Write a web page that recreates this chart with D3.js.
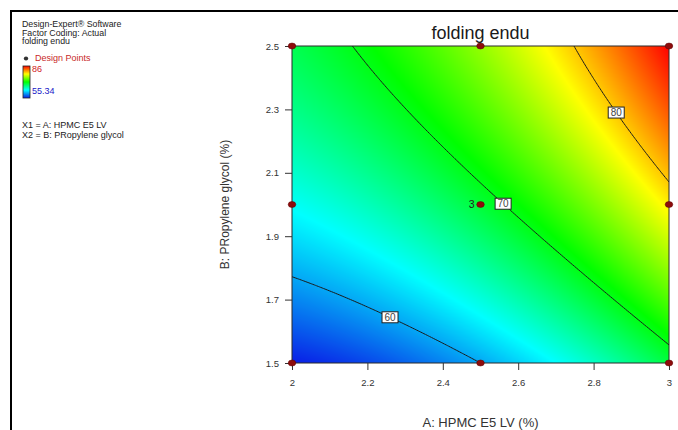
<!DOCTYPE html>
<html><head><meta charset="utf-8">
<script src="https://cdn.jsdelivr.net/npm/d3@7"></script>
<style>body{margin:0;background:#fff;overflow:hidden}svg{display:block}text{font-family:"Liberation Sans",Arial,sans-serif}</style>
</head><body><svg id="c" width="678" height="430"></svg>
<script>
const chartTitle = "folding endu";
const xLabel = "A: HPMC E5 LV (%)";
const yLabel = "B: PRopylene glycol (%)";
const xTicks = [2, 2.2, 2.4, 2.6, 2.8, 3];
const yTicks = [1.5, 1.7, 1.9, 2.1, 2.3, 2.5];
const designA = [2, 2.5, 3, 2, 2.5, 3, 2, 2.5, 3];
const designB = [1.5, 1.5, 1.5, 2, 2, 2, 2.5, 2.5, 2.5];
const designReps = [1, 1, 1, 1, 3, 1, 1, 1, 1];
// coded quadratic model terms: intercept, A, B, AB, A^2, B^2
const modelCoef = [69, 7.78, 7.55, 1.10, 2.02, -1.45];
const contourLevels = [60, 70, 80];
const labelA = [2.26, 2.56, 2.86];
const responseRange = [55.34, 86];
const colorStops = [0, 0.25, 0.5, 0.75, 1];
const colorValues = ["#0a1ee6", "#00ffff", "#00ff00", "#ffff00", "#ff0000"];
const legendLines = ["Design-Expert\u00ae Software", "Factor Coding: Actual", "folding endu"];
const factorLines = ["X1 = A: HPMC E5 LV", "X2 = B: PRopylene glycol"];

const svg = d3.select("#c");
const x = d3.scaleLinear().domain([2, 3]).range([292, 669]);
const y = d3.scaleLinear().domain([1.5, 2.5]).range([363, 46]);

function model(A, B) {
  const a = (A - 2.5) / 0.5, b = (B - 2) / 0.5;
  const c = modelCoef;
  return c[0] + c[1]*a + c[2]*b + c[3]*a*b + c[4]*a*a + c[5]*b*b;
}
const color = d3.scaleLinear()
  .domain(colorStops.map(s => responseRange[0] + s * (responseRange[1] - responseRange[0])))
  .range(colorValues).interpolate(d3.interpolateRgb).clamp(true);

// outer frame
svg.append("path").attr("d", "M11,430V11H678").attr("fill", "none").attr("stroke", "#000").attr("stroke-width", 2);

// surface image
const x0 = x(2), y0 = y(2.5);
const W = Math.round(x(3) - x0), H = Math.round(y(1.5) - y0);
const cv = document.createElement("canvas"); cv.width = W; cv.height = H;
const ctx = cv.getContext("2d");
const img = ctx.createImageData(W, H);
for (let j = 0; j < H; j++) {
  for (let i = 0; i < W; i++) {
    const A = x.invert(x0 + i + 0.5), B = y.invert(y0 + j + 0.5);
    const c = d3.rgb(color(model(A, B)));
    const k = (j * W + i) * 4;
    img.data[k] = c.r; img.data[k+1] = c.g; img.data[k+2] = c.b; img.data[k+3] = 255;
  }
}
ctx.putImageData(img, 0, 0);
svg.append("image").attr("href", cv.toDataURL()).attr("x", x0).attr("y", y0)
  .attr("width", W).attr("height", H).attr("preserveAspectRatio", "none");

// contours
svg.append("clipPath").attr("id", "clip").append("rect")
  .attr("x", x0).attr("y", y0).attr("width", W).attr("height", H);
const nx = 201, ny = 201;
const grid = new Array(nx * ny);
for (let j = 0; j < ny; j++) for (let i = 0; i < nx; i++) {
  grid[j * nx + i] = model(2 + i / (nx - 1), 2.5 - j / (ny - 1));
}
const contours = d3.contours().size([nx, ny]).thresholds(contourLevels)(grid);
const proj = d3.geoTransform({
  point(px, py) {
    this.stream.point(x(2 + (px - 0.5) / (nx - 1)), y(2.5 - (py - 0.5) / (ny - 1)));
  }
});
svg.append("g").attr("clip-path", "url(#clip)").selectAll("path").data(contours).join("path")
  .attr("d", d3.geoPath(proj)).attr("fill", "none").attr("stroke", "#1a1a1a").attr("stroke-width", 1);

// plot border
svg.append("rect").attr("x", x0).attr("y", y0).attr("width", W).attr("height", H)
  .attr("fill", "none").attr("stroke", "#2a2a2a").attr("stroke-width", 1);

// axes
const xAxis = svg.append("g").attr("transform", `translate(0,${y(1.5)})`)
  .call(d3.axisBottom(x).tickValues(xTicks).tickFormat(d3.format("")).tickSize(7).tickPadding(9));
const yAxis = svg.append("g").attr("transform", `translate(${x(2)},0)`)
  .call(d3.axisLeft(y).tickValues(yTicks).tickFormat(d3.format(".1f")).tickSize(7).tickPadding(6));
[xAxis, yAxis].forEach(g => {
  g.select(".domain").remove();
  g.selectAll("line").attr("stroke", "#333");
  g.selectAll("text").attr("fill", "#333").style("font-size", "9.5px").style("font-family", '"Liberation Sans",Arial,sans-serif');
});

// contour labels
contourLevels.forEach((lv, k) => {
  const A = labelA[k];
  let lo = 1.5, hi = 2.5;
  for (let it = 0; it < 50; it++) {
    const mid = (lo + hi) / 2;
    if (model(A, mid) < lv) lo = mid; else hi = mid;
  }
  const cx = x(A), cy = y((lo + hi) / 2);
  svg.append("rect").attr("x", cx - 8).attr("y", cy - 5.5).attr("width", 16).attr("height", 11)
    .attr("fill", "#fff").attr("stroke", "#222").attr("stroke-width", 1);
  svg.append("text").attr("x", cx).attr("y", cy + 3.5).attr("text-anchor", "middle")
    .attr("fill", "#444").style("font-size", "10px").text(lv);
});

// design points
designA.forEach((A, k) => {
  const px = x(A), py = y(designB[k]);
  svg.append("ellipse").attr("cx", px).attr("cy", py).attr("rx", 3.8).attr("ry", 3)
    .attr("fill", "#8e0c0c").attr("stroke", "#5a0505").attr("stroke-width", 0.5);
  if (designReps[k] > 1) {
    svg.append("text").attr("x", px - 6).attr("y", py + 3.5).attr("text-anchor", "end")
      .attr("fill", "#222").style("font-size", "10.5px").text(designReps[k]);
  }
});

// titles
svg.append("text").attr("x", (x(2) + x(3)) / 2).attr("y", 39).attr("text-anchor", "middle")
  .attr("fill", "#1a1a1a").style("font-size", "18px").text(chartTitle);
svg.append("text").attr("x", (x(2) + x(3)) / 2).attr("y", 427).attr("text-anchor", "middle")
  .attr("fill", "#333").style("font-size", "13px").text(xLabel);
svg.append("text").attr("transform", `translate(229,${(y(1.5) + y(2.5)) / 2}) rotate(-90)`)
  .attr("text-anchor", "middle").attr("fill", "#333").style("font-size", "12px").text(yLabel);

// legend
legendLines.forEach((t, k) => {
  svg.append("text").attr("x", 22).attr("y", 27 + k * 8.6).attr("fill", "#222").style("font-size", "8.8px").text(t);
});
svg.append("ellipse").attr("cx", 26).attr("cy", 58.5).attr("rx", 2.2).attr("ry", 2).attr("fill", "#333");
svg.append("text").attr("x", 35).attr("y", 61).attr("fill", "#c82828").style("font-size", "9px").text("Design Points");
const grad = svg.append("defs").append("linearGradient").attr("id", "lg")
  .attr("x1", 0).attr("y1", 1).attr("x2", 0).attr("y2", 0);
colorStops.forEach((s, k) => grad.append("stop").attr("offset", s).attr("stop-color", colorValues[k]));
svg.append("rect").attr("x", 23).attr("y", 66).attr("width", 7).attr("height", 32)
  .attr("fill", "url(#lg)").attr("stroke", "#222").attr("stroke-width", 0.8);
svg.append("text").attr("x", 32).attr("y", 72).attr("fill", "#d02020").style("font-size", "9px").text(responseRange[1]);
svg.append("text").attr("x", 32).attr("y", 94).attr("fill", "#2020c8").style("font-size", "9px").text(responseRange[0]);
factorLines.forEach((t, k) => {
  svg.append("text").attr("x", 22).attr("y", 128 + k * 9.5).attr("fill", "#222").style("font-size", "9px").text(t);
});
</script></body></html>
